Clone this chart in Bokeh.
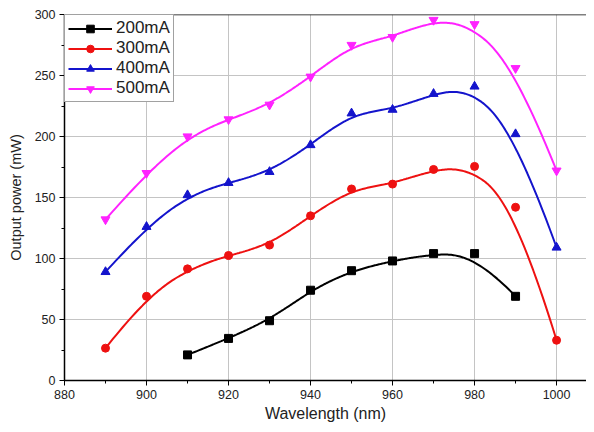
import numpy as np
from bokeh.plotting import figure
from bokeh.models import Range1d, SingleIntervalTicker, Legend, LegendItem, Span
from bokeh.embed import file_html
from bokeh.resources import INLINE

wavelength = [890, 900, 910, 920, 930, 940, 950, 960, 970, 980, 990, 1000]
wl_200 = [910, 920, 930, 940, 950, 960, 970, 980, 990]
p_200 = [21, 34.5, 49, 74, 90, 98, 104, 104, 69]
p_300 = [26.5, 69, 91.5, 102.5, 111, 135, 157, 161, 173, 175.5, 142, 33]
p_400 = [89, 126, 152, 162, 171, 193, 219, 222, 235, 241, 202, 109]
p_500 = [132, 170, 200, 214, 226, 249, 275, 281.5, 295.5, 292, 256, 172]
labels = ["200mA", "300mA", "400mA", "500mA"]


def bspline(xs, ys, n=300):
    P = np.column_stack([np.asarray(xs, float), np.asarray(ys, float)])
    k = 3
    m = len(P)
    knots = np.concatenate([[0] * k, np.arange(m - k + 1), [m - k] * k]).astype(float)
    out = []
    for t in np.linspace(0, m - k, n):
        s = min(np.searchsorted(knots, t, side="right") - 1, m - 1)
        d = [P[j + s - k].copy() for j in range(k + 1)]
        for r in range(1, k + 1):
            for j in range(k, r - 1, -1):
                den = knots[j + 1 + s - r] - knots[j + s - k]
                a = 0.0 if den == 0 else (t - knots[j + s - k]) / den
                d[j] = (1 - a) * d[j - 1] + a * d[j]
        out.append(d[k])
    out = np.array(out)
    return out[:, 0], out[:, 1]


p = figure(width=586, height=424, output_backend="svg", toolbar_location=None,
           x_range=Range1d(880, 1007.3), y_range=Range1d(0, 300),
           min_border_left=64, min_border_right=0, min_border_top=14, min_border_bottom=44)
p.outline_line_color = None
p.background_fill_color = "white"
p.border_fill_color = "white"

for ax in (p.xaxis[0], p.yaxis[0]):
    ax.axis_line_color = "black"
    ax.axis_line_width = 1.5
    ax.major_tick_line_color = "black"
    ax.minor_tick_line_color = "black"
    ax.major_tick_in = 0
    ax.major_tick_out = 5
    ax.minor_tick_in = 0
    ax.minor_tick_out = 3
    ax.major_label_text_font = "Liberation Sans"
    ax.major_label_text_font_size = "12.5px"
    ax.major_label_text_color = "#222222"
    ax.major_label_standoff = 4
    ax.axis_label_text_font = "Liberation Sans"
    ax.axis_label_text_font_style = "normal"
    ax.axis_label_text_color = "#222222"

p.xaxis.axis_label_text_font_size = "16px"
p.yaxis.axis_label_text_font_size = "14.5px"
p.xaxis.ticker = SingleIntervalTicker(interval=20, num_minor_ticks=2)
p.yaxis.ticker = SingleIntervalTicker(interval=50, num_minor_ticks=2)
p.xaxis.axis_label = "Wavelength (nm)"
p.yaxis.axis_label = "Output power (mW)"
p.xaxis.axis_label_standoff = 3
p.yaxis.axis_label_standoff = 8

p.xgrid.ticker = SingleIntervalTicker(interval=20)
p.ygrid.ticker = SingleIntervalTicker(interval=50)
p.grid.grid_line_color = "#c4c4c4"
p.grid.grid_line_width = 1

p.add_layout(Span(location=300, dimension="width", line_color="black", line_width=1.5))

series = [
    (wl_200, p_200, "black", "square", 8),
    (wavelength, p_300, "#ee1111", "circle", 8),
    (wavelength, p_400, "#1414cc", "triangle", 9),
    (wavelength, p_500, "#ff22ff", "inverted_triangle", 9),
]

items = []
for (xs, ys, col, mk, sz), lab in zip(series, labels):
    cx, cy = bspline(xs, ys)
    lr = p.line(cx, cy, line_color=col, line_width=2)
    sr = p.scatter(xs, ys, marker=mk, size=sz, fill_color=col, line_color=col)
    items.append(LegendItem(label=lab, renderers=[lr, sr]))

legend = Legend(items=items, location="top_left")
legend.margin = 0
legend.padding = 3
legend.spacing = 0
legend.label_height = 19
legend.glyph_height = 19
legend.glyph_width = 44
legend.label_standoff = 4
legend.label_text_font = "Liberation Sans"
legend.label_text_font_size = "17px"
legend.label_text_color = "#222222"
legend.border_line_color = "#444444"
legend.border_line_width = 1
legend.background_fill_alpha = 1
p.add_layout(legend)

open("out.html", "w").write(file_html(p, INLINE))
